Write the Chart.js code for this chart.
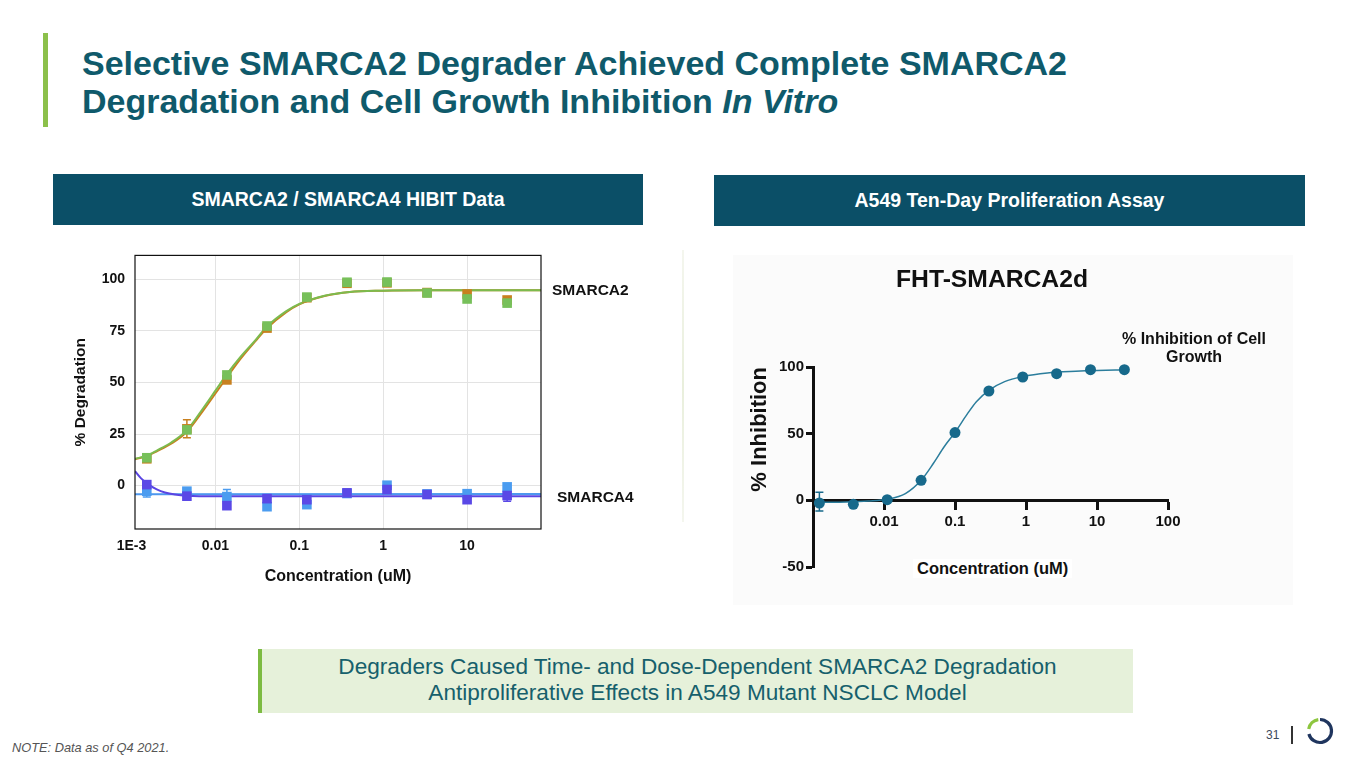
<!DOCTYPE html>
<html lang="en">
<head>
<meta charset="UTF-8">
<title>Selective SMARCA2 Degrader</title>
<script src="https://cdn.jsdelivr.net/npm/chart.js"></script>
<style>
    body {
        margin: 0;
        padding: 0;
        background: #fff;
        font-family: "Liberation Sans", Arial, sans-serif;
    }

    .slide {
        position: relative;
        width: 1365px;
        height: 768px;
        overflow: hidden;
        background: #fff;
    }

    .accent {
        position: absolute;
        left: 43px;
        top: 33px;
        width: 5px;
        height: 94px;
        background: #8cc04b;
    }

    h1 {
        position: absolute;
        left: 82px;
        top: 44px;
        margin: 0;
        font-size: 34px;
        line-height: 38px;
        font-weight: bold;
        color: #0f5a6b;
        white-space: nowrap;
    }

    .band {
        position: absolute;
        height: 51px;
        background: #0b4f67;
        color: #fff;
        font-weight: bold;
        font-size: 19.5px;
        display: flex;
        align-items: center;
        justify-content: center;
    }

    .abs {
        position: absolute;
        white-space: nowrap;
    }

    .lbl {
        font-weight: bold;
        font-size: 15.5px;
        color: #111;
    }

    .panel {
        position: absolute;
        left: 733px;
        top: 255px;
        width: 560px;
        height: 350px;
        background: #fbfbfb;
    }

    .callout {
        position: absolute;
        left: 258px;
        top: 649px;
        width: 875px;
        height: 64px;
        background: #e6f1da;
        border-left: 4px solid #7dbb42;
        box-sizing: border-box;
        color: #16606c;
        font-size: 22.6px;
        line-height: 26px;
        text-align: center;
        padding-top: 5px;
    }

    canvas {
        position: absolute;
    }
</style>
</head>
<body>
<div class="slide">
    <div class="accent"></div>
    <h1>Selective SMARCA2 Degrader Achieved Complete SMARCA2<br>Degradation and Cell Growth Inhibition <i>In Vitro</i></h1>

    <div class="band" style="left:53px; top:174px; width:590px;">SMARCA2 / SMARCA4 HIBIT Data</div>
    <div class="band" style="left:714px; top:175px; width:591px;">A549 Ten-Day Proliferation Assay</div>

    <!-- faint divider between the two panels -->
    <div class="abs" style="left:682px; top:250px; width:2px; height:272px; background:linear-gradient(#f4f6ee, #e9efdc, #f4f6ee);"></div>

    <canvas id="hibitChart" width="600" height="363" style="left:60px; top:237px;"></canvas>
    <div class="abs lbl" style="left:552px; top:281px;">SMARCA2</div>
    <div class="abs lbl" style="left:557px; top:488px;">SMARCA4</div>

    <div class="panel"></div>
    <canvas id="prolifChart" width="560" height="350" style="left:733px; top:255px;"></canvas>
    <div class="abs" style="left:896px; top:265px; font-size:24.7px; font-weight:bold; color:#111;">FHT-SMARCA2d</div>
    <div class="abs" style="left:1114px; top:330px; width:160px; text-align:center; font-size:16px; line-height:18px; font-weight:bold; color:#111;">% Inhibition of Cell<br>Growth</div>
    <div class="abs" style="left:913px; top:559px; padding:0 4px; background:#fff; font-size:16.5px; font-weight:bold; color:#111;">Concentration (uM)</div>

    <div class="callout">Degraders Caused Time- and Dose-Dependent SMARCA2 Degradation<br>Antiproliferative Effects in A549 Mutant NSCLC Model</div>

    <div class="abs" style="left:12px; top:740px; font-size:12.8px; font-style:italic; color:#555;">NOTE: Data as of Q4 2021.</div>
    <div class="abs" style="left:1266px; top:728px; font-size:12px; color:#3c4a5c;">31</div>
    <div class="abs" style="left:1291px; top:726px; width:1.5px; height:18px; background:#333;"></div>
    <svg class="abs" style="left:1300px; top:711px;" width="40" height="40" viewBox="1300 711 40 40">
        <path d="M1320 719.5 A11.5 11.5 0 1 1 1308.9 734" fill="none" stroke="#1f355e" stroke-width="3.2"/>
        <path d="M1308.7 729 A11.5 11.5 0 0 1 1318.3 719.6" fill="none" stroke="#8dc63f" stroke-width="3.2"/>
    </svg>
</div>

<script>
    // ---- HiBiT degradation (left panel), 3-fold dilution, uM ----
    const hibitConc = [0.00152, 0.00457, 0.0137, 0.0412, 0.123, 0.370, 1.11, 3.33, 10, 30];
    const smarca2Green = [13.5, 27, 53.6, 77.3, 91.3, 98.5, 98.6, 93.3, 90.4, 88.4];
    const smarca2Orange = [13, 27.5, 51.2, 76.3, 91, 98, 98.2, 93.5, 92.8, 89.9];
    const smarca4Purple = [0.5, -5.1, -9.7, -6.3, -6.8, -3.5, -1.9, -4.3, -6.8, -4.8];
    const smarca4Blue = [-2.7, -2.7, -5.3, -10.2, -9.2, -3.8, 0.2, -4, -3.9, -0.6];
    // error bars [low, high], null where none is visible
    const smarca2OrangeErr = [null, [23.2, 31.9], null, null, null, null, null, null, null, null];
    const smarca4BlueErr = [[-5.5, -1], null, [-8.5, -1.9], null, null, null, null, null, null, null];
    const smarca4PurpleErr = [null, null, null, null, null, null, null, null, null, [-7.6, -0.8]];

    // fitted curves
    const fit2Conc = [0.0011, 0.0015, 0.002, 0.003, 0.0046, 0.007, 0.01, 0.0137, 0.02, 0.03, 0.041, 0.07, 0.1, 0.2, 0.4, 1, 3, 10, 76];
    const fit2Green = [13, 14.5, 17, 21, 27, 37, 46, 54, 62.5, 70.5, 77, 84.5, 88, 92, 93.8, 94.4, 94.6, 94.6, 94.6];
    const fit2Orange = [12.8, 14.2, 16.6, 20.4, 26.2, 35.8, 44.6, 52.4, 61.5, 70, 76.2, 84, 87.8, 91.8, 93.8, 94.4, 94.6, 94.6, 94.6];
    const fit4PurpleConc = [0.0011, 0.0013, 0.0016, 0.002, 0.0025, 0.0033, 0.0046, 0.01, 0.1, 76];
    const fit4Purple = [7, 3.5, 0.5, -1.8, -3.3, -4.3, -4.9, -5.2, -5.2, -5.2];
    const fit4BlueConc = [0.0011, 76];
    const fit4Blue = [-4.2, -4.0];

    const hibitXTicks = [0.001, 0.01, 0.1, 1, 10];
    const hibitXLabels = ['1E-3', '0.01', '0.1', '1', '10'];
    const hibitYTicks = [0, 25, 50, 75, 100];

    // ---- A549 ten-day proliferation (right panel) ----
    const a549Conc = [0.00123, 0.0037, 0.0111, 0.0333, 0.1, 0.3, 0.9, 2.7, 8.1, 24.3];
    const a549Inhib = [-2, -3, 0.5, 15, 50.8, 82, 92.5, 95, 98, 98];
    const a549Err = [[-8, 6], null, null, null, null, null, null, null, null, null];
    const a549FitConc = [0.00123, 0.003, 0.006, 0.0111, 0.02, 0.0333, 0.05, 0.07, 0.1, 0.15, 0.2, 0.3, 0.5, 0.9, 2, 5, 10, 24.3];
    const a549Fit = [-1.5, -1.2, -0.5, 0.8, 5, 15, 28, 40, 51, 65, 74, 82.5, 89, 92.8, 95.5, 96.8, 97.4, 97.8];

    const a549XTicks = [0.01, 0.1, 1, 10, 100];
    const a549XLabels = ['0.01', '0.1', '1', '10', '100'];
    const a549YTicks = [-50, 0, 50, 100];

    Chart.defaults.font.family = '"Liberation Sans", Arial, sans-serif';
    Chart.defaults.color = '#111';

    const pts = (xs, ys) => xs.map((v, i) => ({ x: v, y: ys[i] }));

    // draws vertical error bars stored on a dataset as yErr
    const errorBars = {
        id: 'errorBars',
        beforeDatasetsDraw(chart) {
            const { ctx, scales: { x, y } } = chart;
            chart.data.datasets.forEach(ds => {
                if (!ds.yErr) return;
                ds.yErr.forEach((e, i) => {
                    if (!e) return;
                    const px = x.getPixelForValue(ds.data[i].x);
                    const lo = y.getPixelForValue(e[0]);
                    const hi = y.getPixelForValue(e[1]);
                    ctx.save();
                    ctx.strokeStyle = ds.borderColor;
                    ctx.lineWidth = 1.5;
                    ctx.beginPath();
                    ctx.moveTo(px, lo); ctx.lineTo(px, hi);
                    ctx.moveTo(px - 4, lo); ctx.lineTo(px + 4, lo);
                    ctx.moveTo(px - 4, hi); ctx.lineTo(px + 4, hi);
                    ctx.stroke();
                    ctx.restore();
                });
            });
        }
    };

    // black frame round the plot area
    const plotFrame = {
        id: 'plotFrame',
        afterDatasetsDraw(chart) {
            const { ctx, chartArea: a } = chart;
            ctx.save();
            ctx.strokeStyle = '#111';
            ctx.lineWidth = 1.2;
            ctx.strokeRect(a.left, a.top, a.right - a.left, a.bottom - a.top);
            ctx.restore();
        }
    };

    const fitLine = (xs, ys, color, order) => ({
        data: pts(xs, ys), showLine: true, pointRadius: 0, borderColor: color,
        borderWidth: 2, cubicInterpolationMode: 'monotone', order: order
    });
    const squares = (ys, err, color, order) => ({
        data: pts(hibitConc, ys), yErr: err, pointStyle: 'rect', pointRadius: 6.8,
        backgroundColor: color, borderColor: color, borderWidth: 0, order: order, clip: false
    });

    new Chart(document.getElementById('hibitChart'), {
        type: 'scatter',
        data: {
            datasets: [
                fitLine(fit2Conc, fit2Orange, '#c8801f', 9),
                fitLine(fit2Conc, fit2Green, '#7cbb4e', 8),
                fitLine(fit4BlueConc, fit4Blue, '#4d97ee', 9),
                fitLine(fit4PurpleConc, fit4Purple, '#5a45e2', 8),
                squares(smarca2Orange, smarca2OrangeErr, '#c8801f', 4),
                squares(smarca2Green, null, '#77c05a', 3),
                squares(smarca4Blue, smarca4BlueErr, '#4b9cf0', 4),
                squares(smarca4Purple, smarca4PurpleErr, '#5a48e6', 3)
            ]
        },
        options: {
            responsive: false,
            animation: false,
            layout: { padding: { left: 0, top: 0, right: 119, bottom: 0 } },
            plugins: { legend: { display: false }, tooltip: { enabled: false } },
            scales: {
                x: {
                    type: 'logarithmic',
                    min: 0.0011,
                    max: 76,
                    afterBuildTicks: s => { s.ticks = hibitXTicks.map(v => ({ value: v })); },
                    afterFit: s => { s.height = 71; },
                    border: { display: false },
                    grid: {
                        drawTicks: false,
                        color: c => (c.tick && c.tick.value < 0.0011) ? 'rgba(0,0,0,0)' : '#e3e3e3'
                    },
                    ticks: {
                        padding: 9,
                        autoSkip: false,
                        maxRotation: 0,
                        font: { size: 14, weight: 'bold' },
                        callback: (v, i) => hibitXLabels[i]
                    },
                    title: {
                        display: true,
                        text: 'Concentration (uM)',
                        font: { size: 16, weight: 'bold' },
                        padding: { top: 0, bottom: 14 }
                    }
                },
                y: {
                    min: -21,
                    max: 111.5,
                    afterBuildTicks: s => { s.ticks = hibitYTicks.map(v => ({ value: v })); },
                    afterFit: s => { s.width = 75; },
                    border: { display: false },
                    grid: { drawTicks: false, color: '#e3e3e3' },
                    ticks: { padding: 10, font: { size: 14, weight: 'bold' } },
                    title: {
                        display: true,
                        text: '% Degradation',
                        font: { size: 15.5, weight: 'bold' },
                        padding: { top: 11, bottom: 0 }
                    }
                }
            }
        },
        plugins: [errorBars, plotFrame]
    });

    new Chart(document.getElementById('prolifChart'), {
        type: 'scatter',
        data: {
            datasets: [
                {
                    data: pts(a549Conc, a549Inhib), yErr: a549Err, pointRadius: 5.5,
                    backgroundColor: '#17698b', borderColor: '#17698b', borderWidth: 0, order: 1, clip: false
                },
                {
                    data: pts(a549FitConc, a549Fit), showLine: true, pointRadius: 0, borderColor: '#2b7d9c',
                    borderWidth: 1.5, cubicInterpolationMode: 'monotone', order: 2
                }
            ]
        },
        options: {
            responsive: false,
            animation: false,
            layout: { padding: { left: 0, top: 112, right: 125, bottom: 38 } },
            plugins: { legend: { display: false }, tooltip: { enabled: false } },
            scales: {
                x: {
                    type: 'logarithmic',
                    min: 0.001,
                    max: 100,
                    position: { y: 0 },
                    afterBuildTicks: s => { s.ticks = a549XTicks.map(v => ({ value: v })); },
                    afterFit: s => { s.height = 0; },
                    border: { display: true, color: '#111', width: 3 },
                    grid: { drawOnChartArea: false, drawTicks: true, tickLength: 8, tickWidth: 3, color: '#111' },
                    ticks: {
                        padding: 5,
                        autoSkip: false,
                        maxRotation: 0,
                        font: { size: 15, weight: 'bold' },
                        callback: (v, i) => a549XLabels[i]
                    }
                },
                y: {
                    min: -50,
                    max: 100,
                    afterBuildTicks: s => { s.ticks = a549YTicks.map(v => ({ value: v })); },
                    afterFit: s => { s.width = 80; },
                    border: { display: true, color: '#111', width: 3 },
                    grid: { drawOnChartArea: false, drawTicks: true, tickLength: 7, tickWidth: 3, color: '#111' },
                    ticks: { padding: 2, font: { size: 15, weight: 'bold' } },
                    title: {
                        display: true,
                        text: '% Inhibition',
                        align: 'end',
                        font: { size: 22, weight: 'bold' },
                        padding: { top: 14, bottom: 0 }
                    }
                }
            }
        },
        plugins: [errorBars]
    });
</script>
</body>
</html>
